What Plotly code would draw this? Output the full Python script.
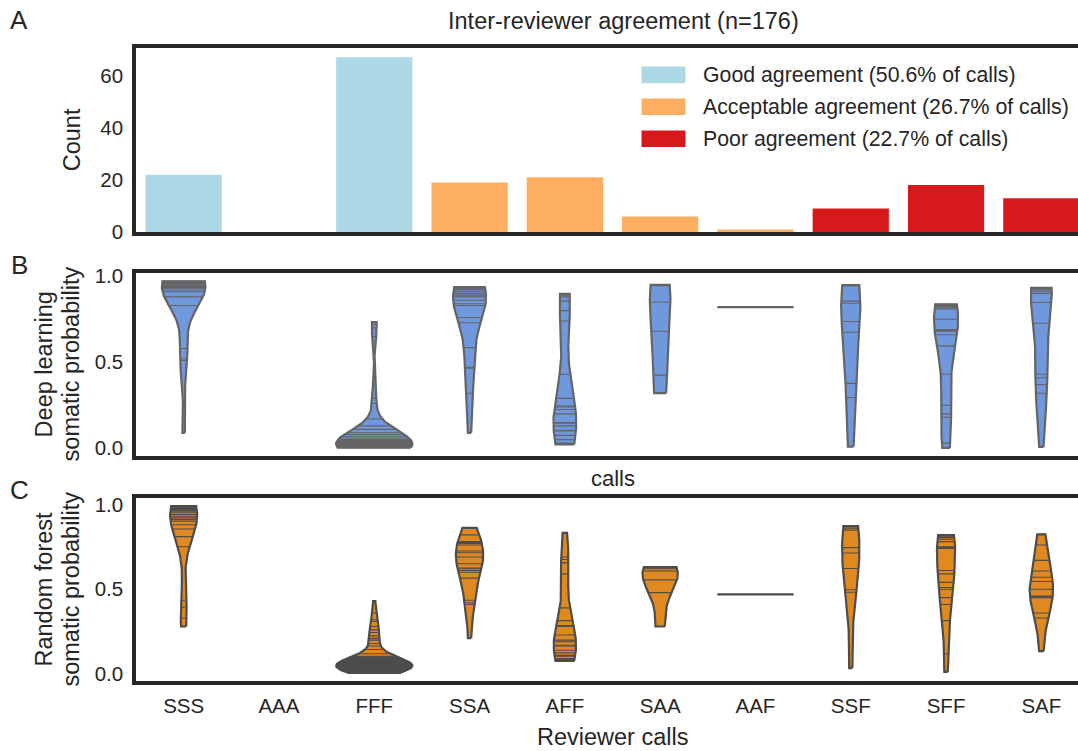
import numpy as np
import plotly.graph_objects as go

W, H = 1078, 751
FONT = "Liberation Sans, Arial, Helvetica, sans-serif"
INK = "#262626"

# ---- reviewer-call groups and agreement counts -------------------------
categories = ["SSS", "AAA", "FFF", "SSA", "AFF", "SAA", "AAF", "SSF", "SFF", "SAF"]
counts = [22, 0, 67, 19, 21, 6, 1, 9, 18, 13]
agreement = ["Good", "Good", "Good", "Acceptable", "Acceptable", "Acceptable",
             "Acceptable", "Poor", "Poor", "Poor"]
agreement_levels = ["Good", "Acceptable", "Poor"]
agreement_colors = ["#add8e6", "#fdae61", "#d7191c"]

# ---- deep learning somatic probability per group -----------------------
dl_sss = [0.970, 0.970, 0.969, 0.968, 0.965, 0.963, 0.960, 0.958, 0.955, 0.950,
          0.945, 0.940, 0.935, 0.930, 0.920, 0.910, 0.880, 0.830, 0.580, 0.520,
          0.510, 0.090]
dl_aaa = []
dl_fff = [0.733, 0.720, 0.700, 0.650, 0.370, 0.290, 0.260, 0.170, 0.130, 0.110,
          0.090, 0.080, 0.070, 0.060, 0.050, 0.045,
          0.004, 0.005, 0.005, 0.006, 0.006, 0.007, 0.007, 0.008, 0.008, 0.009,
          0.009, 0.010, 0.010, 0.011, 0.011, 0.012, 0.012, 0.013, 0.013, 0.014,
          0.014, 0.015, 0.015, 0.016, 0.017, 0.017, 0.018, 0.019, 0.020, 0.020,
          0.021, 0.022, 0.023, 0.024, 0.025, 0.026, 0.027, 0.028, 0.029, 0.030,
          0.031, 0.032, 0.033, 0.034, 0.035, 0.036, 0.037, 0.038, 0.039, 0.040,
          0.042]
dl_ssa = [0.937, 0.935, 0.930, 0.925, 0.920, 0.910, 0.900, 0.890, 0.880, 0.860,
          0.840, 0.830, 0.760, 0.730, 0.585, 0.470, 0.465, 0.320, 0.090]
dl_aff = [0.898, 0.890, 0.880, 0.855, 0.800, 0.740, 0.430, 0.290, 0.245, 0.240,
          0.225, 0.200, 0.150, 0.145, 0.130, 0.105, 0.100, 0.075, 0.050, 0.030,
          0.023]
dl_saa = [0.950, 0.945, 0.850, 0.680, 0.425, 0.320]
dl_aaf = [0.820]
dl_ssf = [0.948, 0.945, 0.855, 0.843, 0.737, 0.674, 0.377, 0.295, 0.010]
dl_sff = [0.837, 0.835, 0.830, 0.825, 0.820, 0.810, 0.750, 0.690, 0.685, 0.680,
          0.660, 0.595, 0.430, 0.250, 0.200, 0.180, 0.030, 0.002]
dl_saf = [0.932, 0.930, 0.925, 0.920, 0.910, 0.900, 0.847, 0.727, 0.430, 0.410,
          0.370, 0.320, 0.008]

# ---- random forest somatic probability per group -----------------------
rf_sss = [0.990, 0.988, 0.985, 0.980, 0.975, 0.970, 0.965, 0.960, 0.950, 0.940,
          0.930, 0.920, 0.910, 0.900, 0.880, 0.855, 0.810, 0.750, 0.435, 0.395,
          0.330, 0.280]
rf_aaa = []
rf_fff = [0.430, 0.360, 0.320, 0.310, 0.280, 0.260, 0.245, 0.225, 0.210, 0.200,
          0.180, 0.165, 0.145, 0.120, 0.105,
          0.006, 0.008, 0.010, 0.012, 0.014, 0.016, 0.018, 0.020, 0.022, 0.024,
          0.025, 0.027, 0.028, 0.030, 0.031, 0.033, 0.034, 0.035, 0.037, 0.038,
          0.040, 0.041, 0.042, 0.044, 0.045, 0.046, 0.048, 0.049, 0.050, 0.052,
          0.053, 0.055, 0.056, 0.058, 0.060, 0.062, 0.064, 0.066, 0.068, 0.070,
          0.072, 0.074, 0.076, 0.078, 0.080, 0.083, 0.086, 0.089, 0.092, 0.095,
          0.098, 0.100]
rf_ssa = [0.861, 0.820, 0.780, 0.775, 0.770, 0.760, 0.725, 0.715, 0.690, 0.650,
          0.625, 0.620, 0.610, 0.600, 0.565, 0.435, 0.420, 0.410, 0.212]
rf_aff = [0.832, 0.690, 0.675, 0.655, 0.590, 0.390, 0.315, 0.285, 0.280, 0.230,
          0.200, 0.190, 0.170, 0.165, 0.140, 0.125, 0.110, 0.105, 0.092, 0.085,
          0.077]
rf_saa = [0.630, 0.620, 0.607, 0.555, 0.480, 0.280]
rf_aaf = [0.470]
rf_ssf = [0.871, 0.860, 0.848, 0.745, 0.713, 0.622, 0.497, 0.482, 0.035]
rf_sff = [0.819, 0.812, 0.805, 0.795, 0.780, 0.750, 0.745, 0.740, 0.610, 0.590,
          0.540, 0.510, 0.500, 0.450, 0.410, 0.315, 0.120, 0.013]
rf_saf = [0.823, 0.760, 0.670, 0.607, 0.570, 0.545, 0.500, 0.460, 0.455, 0.450,
          0.360, 0.330, 0.135]

deep_learning = dict(zip(categories, [dl_sss, dl_aaa, dl_fff, dl_ssa, dl_aff,
                                      dl_saa, dl_aaf, dl_ssf, dl_sff, dl_saf]))
random_forest = dict(zip(categories, [rf_sss, rf_aaa, rf_fff, rf_ssa, rf_aff,
                                      rf_saa, rf_aaf, rf_ssf, rf_sff, rf_saf]))

# page offset / vertical squeeze of the rendered page
TOP_OFFSET = 7.5
V_SCALE = 0.975


def px_x(p):
    return p / W


def px_y(p):
    return 1 - (p - TOP_OFFSET) / (V_SCALE * H)


# ---- figure geometry (pixels) -----------------------------------------
left_px = 136
unit_px = 95.3
x_range = [-0.5, -0.5 + (W - left_px) / unit_px]
panels = {  # top, bottom of each axes box
    "A": (47, 231),
    "B": (272, 455.5),
    "C": (497, 681),
}

fig = go.Figure()

# ---- panel A: counts per reviewer-call group ---------------------------
for level, color in zip(agreement_levels, agreement_colors):
    idx = [i for i, a in enumerate(agreement) if a == level]
    fig.add_trace(go.Bar(
        x=idx, y=[counts[i] for i in idx], width=0.8,
        marker=dict(color=color, line=dict(width=0)),
        xaxis="x", yaxis="y", showlegend=False, hoverinfo="skip"))


# ---- violins with one stick per observation ----------------------------
def kde_curve(values, gridsize=100):
    v = np.asarray(values, float)
    bw = v.std(ddof=1) * len(v) ** (-1 / 5)
    support = np.linspace(v.min(), v.max(), gridsize)
    z = (support[:, None] - v[None, :]) / bw
    dens = np.exp(-0.5 * z ** 2).sum(axis=1) / (len(v) * bw * np.sqrt(2 * np.pi))
    return support, dens


def add_violins(data, xa, ya, fill, edge):
    curves = {c: kde_curve(v) for c, v in data.items() if len(v) > 1}
    peak = max(d.max() for _, d in curves.values())
    half = 0.4
    for i, cat in enumerate(categories):
        vals = data[cat]
        if len(vals) == 0:
            continue
        if len(vals) == 1:
            fig.add_trace(go.Scatter(
                x=[i - half, i + half], y=[vals[0], vals[0]], mode="lines",
                line=dict(color=edge, width=2.2), xaxis=xa, yaxis=ya,
                showlegend=False, hoverinfo="skip"))
            continue
        sup, dens = curves[cat]
        w = dens / peak * half
        xs = np.concatenate([i + w, (i - w)[::-1], [i + w[0]]])
        ys = np.concatenate([sup, sup[::-1], [sup[0]]])
        fig.add_trace(go.Scatter(
            x=xs, y=ys, mode="lines", fill="toself", fillcolor=fill,
            line=dict(color=edge, width=2.2), xaxis=xa, yaxis=ya,
            showlegend=False, hoverinfo="skip"))
        sx, sy = [], []
        for v in vals:
            hw = float(np.interp(v, sup, w))
            sx += [i - hw, i + hw, None]
            sy += [v, v, None]
        fig.add_trace(go.Scatter(
            x=sx, y=sy, mode="lines", line=dict(color=edge, width=1.1),
            xaxis=xa, yaxis=ya, showlegend=False, hoverinfo="skip"))


add_violins(deep_learning, "x2", "y2", "#7098dc", "#656565")
add_violins(random_forest, "x3", "y3", "#df8920", "#4d4d4d")


def padded_range(data):
    allv = np.concatenate([np.asarray(v, float) for v in data.values() if len(v)])
    lo, hi = allv.min(), allv.max()
    pad = 0.05 * (hi - lo)
    return [lo - pad, hi + pad]


# ---- axes ---------------------------------------------------------------
tick_font = dict(family=FONT, size=20.5, color=INK)
frame = dict(showline=True, linecolor=INK, linewidth=3.5, showgrid=False,
             zeroline=False, ticks="outside", tickcolor="rgba(0,0,0,0)",
             tickfont=tick_font)

layout_axes = {}
for k, (name, ydata_range, yticks, ytext) in enumerate([
        ("A", [0, max(counts) * 1.05], [0, 20, 40, 60], ["0", "20", "40", "60"]),
        ("B", padded_range(deep_learning), [0, 0.5, 1.0], ["0.0", "0.5", "1.0"]),
        ("C", padded_range(random_forest), [0, 0.5, 1.0], ["0.0", "0.5", "1.0"])]):
    suffix = "" if k == 0 else str(k + 1)
    top, bottom = panels[name]
    layout_axes["xaxis" + suffix] = dict(
        frame, domain=[px_x(left_px), 1], range=x_range, mirror=True,
        anchor="y" + suffix, tickvals=list(range(len(categories))),
        ticktext=categories, showticklabels=(name == "C"), ticklen=3)
    layout_axes["yaxis" + suffix] = dict(
        frame, domain=[px_y(bottom), px_y(top)], range=ydata_range,
        anchor="x" + suffix, tickvals=yticks, ticktext=ytext, ticklen=5)

# ---- text ---------------------------------------------------------------
total = sum(counts)
LABEL = 23.5
annotations = [
    dict(text=f"Inter-reviewer agreement (n={total})", x=px_x(623), y=px_y(20),
         font=dict(size=LABEL)),
    dict(text="A", x=px_x(19), y=px_y(19), font=dict(size=26)),
    dict(text="B", x=px_x(19), y=px_y(264), font=dict(size=26)),
    dict(text="C", x=px_x(19), y=px_y(489), font=dict(size=26)),
    dict(text="Count", x=px_x(72), y=px_y(139), textangle=-90,
         font=dict(size=LABEL)),
    dict(text="Deep learning", x=px_x(44), y=px_y(363.5), textangle=-90,
         font=dict(size=LABEL)),
    dict(text="somatic probability", x=px_x(71), y=px_y(363.5), textangle=-90,
         font=dict(size=LABEL)),
    dict(text="Random forest", x=px_x(44), y=px_y(589), textangle=-90,
         font=dict(size=LABEL)),
    dict(text="somatic probability", x=px_x(71), y=px_y(589), textangle=-90,
         font=dict(size=LABEL)),
    dict(text="calls", x=px_x(613), y=px_y(478), font=dict(size=22)),
    dict(text="Reviewer calls", x=px_x(613), y=px_y(737), font=dict(size=LABEL)),
]

# legend: colour patch + label with share of calls
shapes = []
for r, (level, color) in enumerate(zip(agreement_levels, agreement_colors)):
    share = 100 * sum(c for c, a in zip(counts, agreement) if a == level) / total
    yc = 73.5 + r * 32
    shapes.append(dict(type="rect", xref="paper", yref="paper",
                       x0=px_x(641.5), x1=px_x(685.5),
                       y0=px_y(yc + 8.3), y1=px_y(yc - 8.3),
                       fillcolor=color, line=dict(width=0)))
    annotations.append(dict(text=f"{level} agreement ({share:.1f}% of calls)",
                            x=px_x(701), y=px_y(yc), xanchor="left",
                            font=dict(size=21.3)))

for a in annotations:
    a.setdefault("xanchor", "center")
    a.update(xref="paper", yref="paper", yanchor="middle", showarrow=False)
    a["font"] = dict(family=FONT, color=INK, **a["font"])

fig.update_layout(
    width=W, height=H, margin=dict(l=0, r=0, t=0, b=0),
    paper_bgcolor="white", plot_bgcolor="white",
    font=dict(family=FONT, color=INK),
    annotations=annotations, shapes=shapes, showlegend=False,
    **layout_axes)

fig.write_html("out.html", config={"displayModeBar": False})
